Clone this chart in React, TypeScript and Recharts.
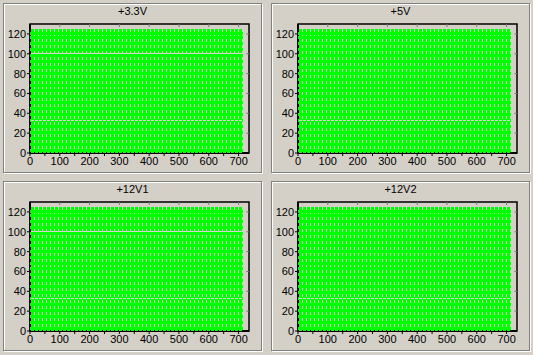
import React from 'react';
import { ScatterChart, Scatter, XAxis, YAxis, ReferenceLine, ReferenceArea } from 'recharts';

const panelTitles = ['+3.3V', '+5V', '+12V1', '+12V2'];
const sampleX = [8, 21, 35, 48, 62, 75, 88, 102, 115, 129, 142, 156, 169, 182, 196, 209, 223, 236, 249, 263, 276, 290, 303, 317, 330, 343, 357, 370, 384, 397, 410, 424, 437, 451, 464, 478, 491, 504, 518, 531, 545, 558, 571, 585, 598, 612, 625, 639, 652, 665, 679, 692, 706];
const sampleY = [3, 9, 15, 21, 27, 33, 39, 45, 51, 57, 63, 69, 75, 81, 87, 93, 99, 105, 111, 117, 121];
const highlightRows = [[100, 33], [33], [100, 33], [33]];
const highlightSpan = [2, 712];
const xTicksMajor = [0, 100, 200, 300, 400, 500, 600, 700];
const xTicksAll = [0, 50, 100, 150, 200, 250, 300, 350, 400, 450, 500, 550, 600, 650, 700];
const yTicks = [0, 20, 40, 60, 80, 100, 120];

const points = sampleX.flatMap((x) => sampleY.map((y) => ({ x, y })));

const offsets = [
  { x: 0, y: 0 },
  { x: 268, y: 0 },
  { x: 0, y: 178 },
  { x: 268, y: 178 },
];

const FONT = '"Liberation Sans", Arial, sans-serif';
const BG = '#D4D0C8';
const GREEN = '#00FF00';

const Dot = (p: any) => {
  const cx = Math.round(p.cx);
  const cy = Math.round(p.cy);
  return (
    <g shapeRendering="crispEdges">
      <rect x={cx - 2} y={cy - 1} width={5} height={3} fill={GREEN} />
      <rect x={cx - 1} y={cy - 4} width={3} height={7} fill={GREEN} />
    </g>
  );
};

const NoDot = () => <g />;

function Panel({ idx }: { idx: number }) {
  const o = offsets[idx];
  return (
    <>
      <div
        style={{
          position: 'absolute',
          left: o.x + 3,
          top: o.y + 3,
          width: 257,
          height: 168,
          border: '1px solid #808080',
          boxShadow: '1px 1px 0 #ffffff, inset 1px 1px 0 #ffffff',
        }}
      />
      <div
        style={{
          position: 'absolute',
          left: o.x + 3,
          top: o.y + 5,
          width: 259,
          textAlign: 'center',
          fontFamily: FONT,
          fontSize: 11,
          lineHeight: '13px',
          color: '#000',
        }}
      >
        {panelTitles[idx]}
      </div>
      <div style={{ position: 'absolute', left: o.x, top: o.y }}>
        <ScatterChart width={262} height={176} margin={{ top: 24, right: 13, bottom: 0, left: 0 }}>
          <XAxis
            dataKey="x"
            type="number"
            domain={[0, 735]}
            allowDataOverflow
            ticks={xTicksAll}
            interval={0}
            tickFormatter={(v: number) => (v % 100 === 0 ? String(v) : '')}
            height={23}
            tickSize={3}
            tickMargin={1}
            stroke="#000"
            axisLine={{ stroke: '#000', strokeWidth: 2 }}
            tickLine={{ stroke: '#000' }}
            tick={{ fill: '#000', fontSize: 11, fontFamily: FONT }}
          />
          <YAxis
            dataKey="y"
            type="number"
            domain={[0, 130]}
            allowDataOverflow
            ticks={yTicks}
            interval={0}
            width={30}
            tickSize={3}
            tickMargin={1}
            axisLine={{ stroke: '#000', strokeWidth: 2 }}
            tickLine={{ stroke: '#000' }}
            tick={{ fill: '#000', fontSize: 11, fontFamily: FONT }}
          />
          <ReferenceArea
            x1={0}
            x2={735}
            y1={0}
            y2={130}
            fill="none"
            stroke="#000"
            strokeWidth={1.5}
            ifOverflow="visible"
          />
          <Scatter data={points} shape={Dot} isAnimationActive={false} />
          {highlightRows[idx].map((v) => (
            <Scatter
              key={'h' + v}
              data={highlightSpan.map((x) => ({ x, y: v }))}
              shape={NoDot}
              line={{ stroke: '#D8D8D8', strokeWidth: 1, strokeDasharray: '3 1', shapeRendering: 'crispEdges' }}
              isAnimationActive={false}
            />
          ))}
          {xTicksMajor.slice(1).map((v) => (
            <ReferenceLine
              key={'t' + v}
              segment={[{ x: v, y: 130 }, { x: v, y: 127 }]}
              stroke="#777"
              ifOverflow="visible"
            />
          ))}
          {yTicks.slice(1).map((v) => (
            <ReferenceLine
              key={'r' + v}
              segment={[{ x: 735, y: v }, { x: 726, y: v }]}
              stroke="#777"
              ifOverflow="visible"
            />
          ))}
        </ScatterChart>
      </div>
    </>
  );
}

export default function App() {
  return (
    <div
      style={{
        position: 'absolute',
        left: 0,
        top: 0,
        width: 533,
        height: 355,
        background: BG,
        overflow: 'hidden',
      }}
    >
      {[0, 1, 2, 3].map((i) => (
        <Panel key={i} idx={i} />
      ))}
    </div>
  );
}
